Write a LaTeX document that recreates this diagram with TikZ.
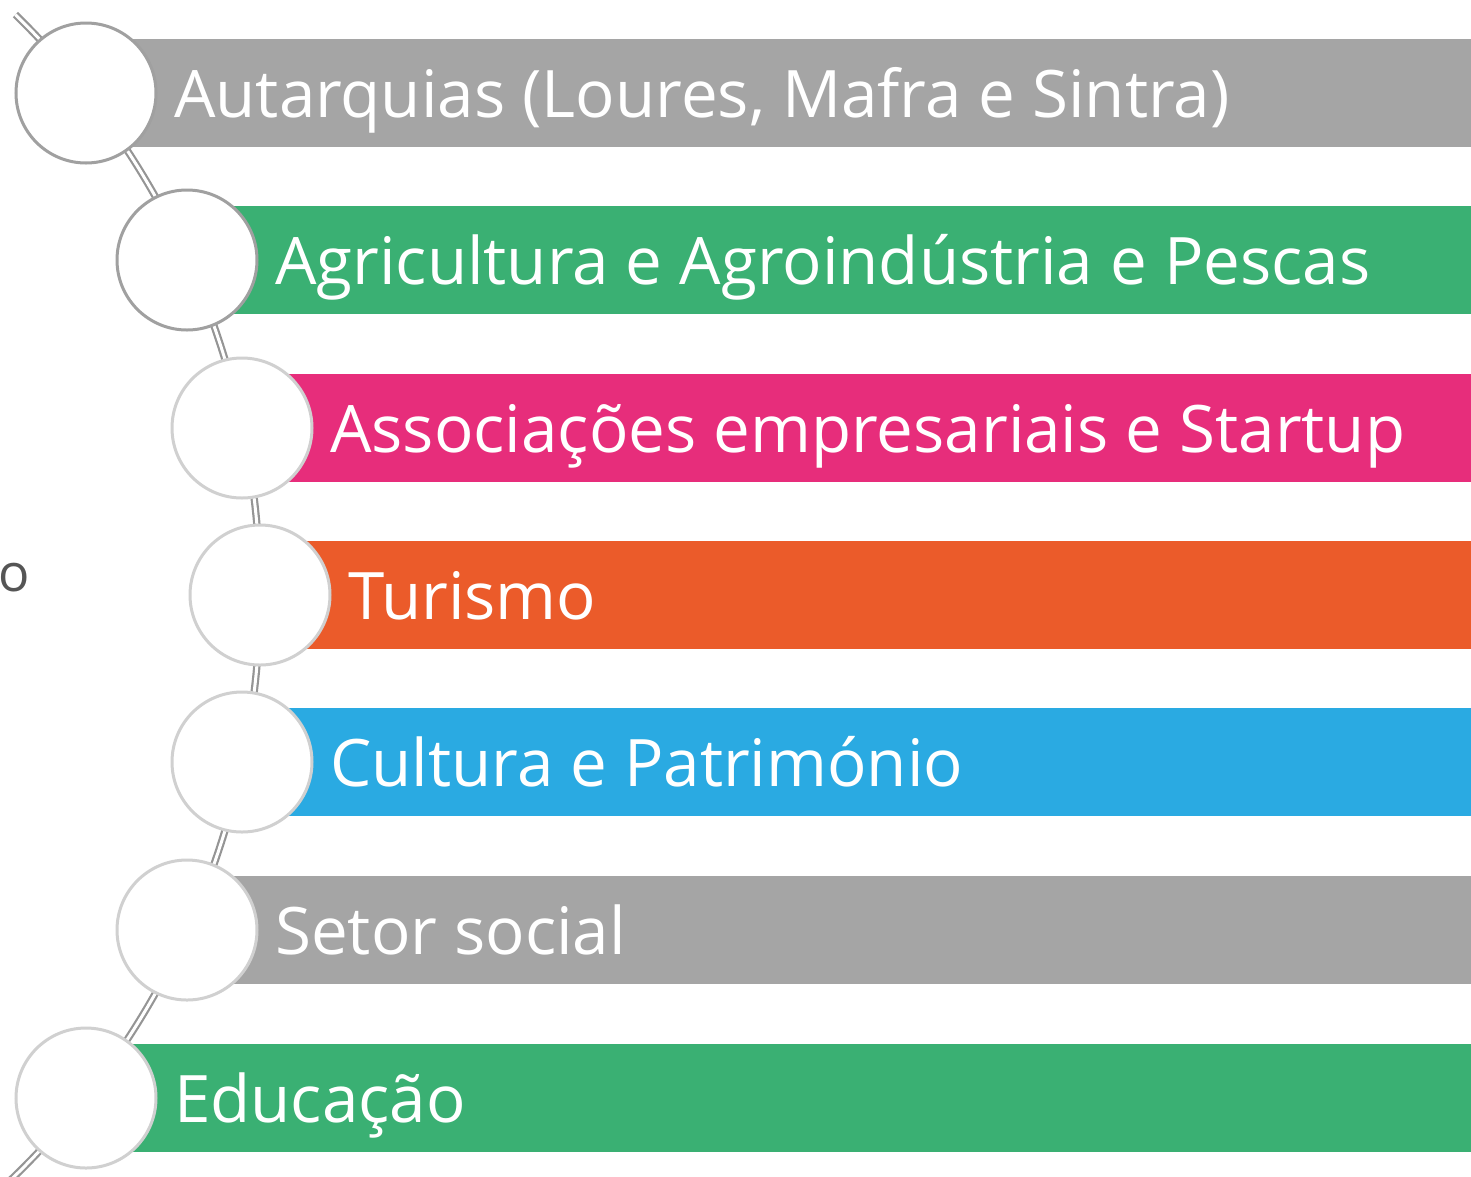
\documentclass[tikz,border=0pt]{standalone}
\usepackage{fontspec}
\setmainfont{Open Sans}
\definecolor{bgray}{HTML}{A5A5A5}
\definecolor{bgreen}{HTML}{3AB073}
\definecolor{bpink}{HTML}{E72D7B}
\definecolor{borange}{HTML}{EB5B2A}
\definecolor{bblue}{HTML}{2AAAE2}
\definecolor{ringdark}{HTML}{A0A0A0}
\definecolor{ringlight}{HTML}{D0D0D0}
\definecolor{arcgray}{HTML}{959595}
\definecolor{sidetext}{HTML}{555555}
\tikzset{
  bartext/.style={text=white, font=\fontsize{65.5}{70}\selectfont, anchor=base west, inner sep=0pt},
  ring/.style={circle, fill=white, line width=3pt, minimum size=140pt, inner sep=0pt},
  arcline/.style={draw=arcgray, double=white, double distance=3pt, line width=2.2pt}
}
\begin{document}
\begin{tikzpicture}[x=1pt,y=1pt]
\useasboundingbox (0,0) rectangle (1471,-1176);
% arc through circle centres
\coordinate (arcc) at (-551,-595);
\draw[arcline] (arcc) ++(45.7:811) arc[start angle=45.7, end angle=-46.2, radius=811];
% side text
\node[text=sidetext, font=\fontsize{52}{54}\selectfont, anchor=base east, inner sep=0pt] (side) at (30,-591) {o};
% bars
\foreach \cx/\cy/\col/\name/\txt in {
  86/93/bgray/t1/{Autarquias (Loures, Mafra e Sintra)},
  187/260/bgreen/t2/{Agricultura e Agroindústria e Pescas},
  242/428/bpink/t3/{Associações empresariais e Startup},
  260/595/borange/t4/{Turismo},
  242/762/bblue/t5/{Cultura e Património},
  187/930/bgray/t6/{Setor social},
  86/1098/bgreen/t7/{Educação}}{
  \fill[\col] (\cx+46,-\cy+54) rectangle (1471,-\cy-54);
  \node[bartext] (\name) at (\cx+88,-\cy-24) {\txt};
}
% circles
\node[ring, draw=ringdark] (c1) at (86,-93) {};
\node[ring, draw=ringdark] (c2) at (187,-260) {};
\node[ring, draw=ringlight] (c3) at (242,-428) {};
\node[ring, draw=ringlight] (c4) at (260,-595) {};
\node[ring, draw=ringlight] (c5) at (242,-762) {};
\node[ring, draw=ringlight] (c6) at (187,-930) {};
\node[ring, draw=ringlight] (c7) at (86,-1098) {};
\end{tikzpicture}
\end{document}
